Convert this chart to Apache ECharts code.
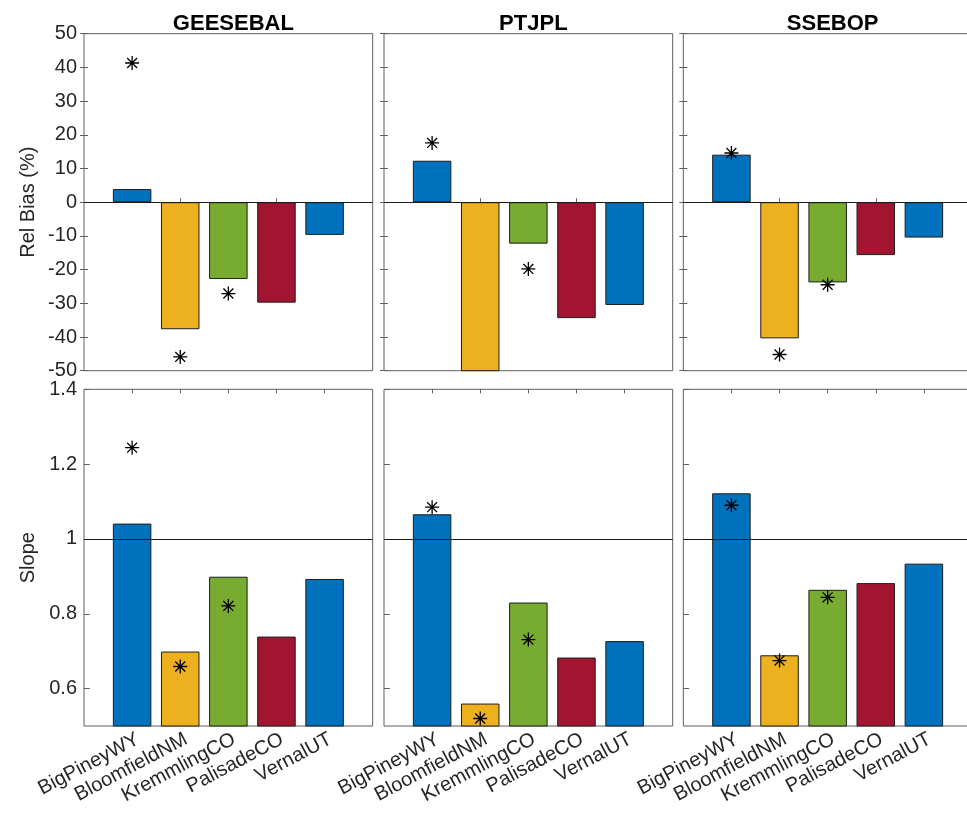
<!DOCTYPE html>
<html>
<head>
<meta charset="utf-8">
<script src="https://cdn.jsdelivr.net/npm/echarts@6/dist/echarts.min.js"></script>
<style>
  html, body { margin: 0; padding: 0; background: #fff; }
  #chart { width: 967px; height: 815px; }
</style>
</head>
<body>
<div id="chart"></div>
<script>
// Sites (x categories) and ET models (panel columns)
const categories = ['BigPineyWY', 'BloomfieldNM', 'KremmlingCO', 'PalisadeCO', 'VernalUT'];
const models = ['GEESEBAL', 'PTJPL', 'SSEBOP'];
const barColors = ['#0072BD', '#EDB120', '#77AC30', '#A2142F', '#0072BD'];

// Relative bias (%) — bars
const relBiasGEESEBAL = [3.9, -37.7, -22.8, -29.8, -9.7];
const relBiasPTJPL    = [12.3, -56.0, -12.3, -34.4, -30.5];
const relBiasSSEBOP   = [14.1, -40.4, -23.8, -15.7, -10.5];
// Relative bias (%) — asterisk markers
const relBiasStarGEESEBAL = [41.3, -45.9, -27.1, null, null];
const relBiasStarPTJPL    = [17.6, null, -19.8, null, null];
const relBiasStarSSEBOP   = [14.6, -45.2, -24.5, null, null];

// Regression slope — bars
const slopeGEESEBAL = [1.041, 0.699, 0.899, 0.739, 0.893];
const slopePTJPL    = [1.066, 0.560, 0.830, 0.683, 0.727];
const slopeSSEBOP   = [1.122, 0.689, 0.864, 0.882, 0.934];
// Regression slope — asterisk markers
const slopeStarGEESEBAL = [1.244, 0.659, 0.821, null, null];
const slopeStarPTJPL    = [1.085, 0.520, 0.731, null, null];
const slopeStarSSEBOP   = [1.090, 0.675, 0.844, null, null];

// Axis ranges / ticks
const relBiasRange = { min: -50, max: 50, interval: 10 };
const slopeRange = { min: 0.5, max: 1.4, interval: 0.1 };
const slopeTickLabels = [0.6, 0.8, 1, 1.2, 1.4];
const relBiasRefLine = 0;
const slopeRefLine = 1;

const rows = [
  { name: 'Rel Bias (%)', range: relBiasRange, ref: relBiasRefLine,
    bars: [relBiasGEESEBAL, relBiasPTJPL, relBiasSSEBOP],
    stars: [relBiasStarGEESEBAL, relBiasStarPTJPL, relBiasStarSSEBOP] },
  { name: 'Slope', range: slopeRange, ref: slopeRefLine,
    bars: [slopeGEESEBAL, slopePTJPL, slopeSSEBOP],
    stars: [slopeStarGEESEBAL, slopeStarPTJPL, slopeStarSSEBOP] }
];

// Layout
const colLeft = [84, 384, 683.3];
const panelW = 288.7;
const rowTop = [33.7, 389.3];
const panelH = [337, 336.7];
// rotated site names sit slightly right of their ticks
const labelShift = 0.12;

const FONT = 'Liberation Sans, Arial, sans-serif';
const TXT = '#262626';
const AX = '#5f5f5f';
const starSymbol = 'path://M0,6L12,6M6,0L6,12M1.76,1.76L10.24,10.24M1.76,10.24L10.24,1.76';

const grid = [], xAxis = [], yAxis = [], series = [], title = [];

rows.forEach((row, r) => {
  models.forEach((model, c) => {
    const gi = grid.length;
    grid.push({
      left: colLeft[c], top: rowTop[r], width: panelW, height: panelH[r],
      outerBoundsMode: 'none', containLabel: false,
      show: true, borderColor: AX, borderWidth: 1, backgroundColor: '#fff'
    });
    const xTicks = r === 0 ? [2, 4] : [1, 2, 3, 4, 5];
    // top x axis: carries the bars, ticks only
    xAxis.push({
      type: 'value', gridIndex: gi, min: 0, max: 6, interval: 1, position: 'top',
      axisLine: { show: false }, splitLine: { show: false },
      axisTick: { show: true, inside: true, length: 4, lineStyle: { color: AX }, customValues: xTicks },
      axisLabel: { show: false }
    });
    // bottom x axis: ticks on the upper row, site names on the lower row
    const shift = r === 1 ? labelShift : 0;
    xAxis.push({
      type: 'value', gridIndex: gi, min: 0 - shift, max: 6 - shift, interval: 1, position: 'bottom',
      axisLine: { show: false }, splitLine: { show: false },
      axisTick: { show: r === 0, inside: true, length: 4, lineStyle: { color: AX }, customValues: xTicks },
      axisLabel: {
        show: r === 1, customValues: [1, 2, 3, 4, 5], rotate: 28, margin: 12,
        fontFamily: FONT, fontSize: 20, color: TXT,
        formatter: v => categories[Math.round(v) - 1] || ''
      }
    });
    const yTickVals = r === 1 ? slopeTickLabels : null;
    const yBase = {
      type: 'value', gridIndex: gi,
      min: row.range.min, max: row.range.max, interval: row.range.interval,
      axisLine: { show: false }, splitLine: { show: false }
    };
    const tick = { show: true, inside: true, length: 4, lineStyle: { color: AX } };
    if (yTickVals) tick.customValues = yTickVals;
    const lab = {
      show: c === 0, fontFamily: FONT, fontSize: 20, color: TXT, margin: 7,
      showMinLabel: true, showMaxLabel: true
    };
    if (yTickVals) lab.customValues = yTickVals;
    yAxis.push(Object.assign({}, yBase, {
      position: 'left', axisTick: tick, axisLabel: lab,
      name: c === 0 ? row.name : '', nameLocation: 'middle', nameGap: 46, nameRotate: 90,
      nameTextStyle: { fontFamily: FONT, fontSize: 20, color: TXT }
    }));
    yAxis.push(Object.assign({}, yBase, {
      position: 'right', axisTick: tick, axisLabel: { show: false }
    }));

    const xi = xAxis.length - 2, yi = yAxis.length - 2;
    series.push({
      type: 'bar', xAxisIndex: xi, yAxisIndex: yi, barWidth: 38.5, clip: true,
      data: row.bars[c].map((v, i) => ({
        value: [i + 1, v],
        itemStyle: { color: barColors[i], borderColor: '#1e1e1e', borderWidth: 1 }
      })),
      markLine: {
        silent: true, symbol: 'none', label: { show: false },
        lineStyle: { color: '#1a1a1a', width: 1, type: 'solid' },
        data: [{ yAxis: row.ref }], animation: false
      },
      animation: false
    });
    series.push({
      type: 'scatter', xAxisIndex: xi, yAxisIndex: yi, z: 5,
      symbol: starSymbol, symbolSize: 14,
      itemStyle: { color: 'rgba(0,0,0,0)', borderColor: '#000', borderWidth: 1.3, opacity: 1 },
      data: row.stars[c].map((v, i) => v == null ? null : [i + 1, v]).filter(d => d),
      animation: false
    });

    if (r === 0) {
      title.push({
        text: model, left: colLeft[c] + panelW / 2, top: 8, textAlign: 'center',
        textStyle: { fontFamily: FONT, fontSize: 22, fontWeight: 'bold', color: '#000' }
      });
    }
  });
});

const chart = echarts.init(document.getElementById('chart'), null, { renderer: 'canvas' });
chart.setOption({ animation: false, title, grid, xAxis, yAxis, series });
</script>
</body>
</html>
